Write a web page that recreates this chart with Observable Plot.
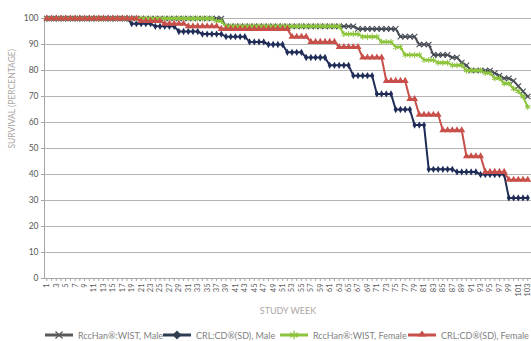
<!DOCTYPE html>
<html>
<head>
<meta charset="utf-8">
<script src="https://cdn.jsdelivr.net/npm/d3@7"></script>
<script src="https://cdn.jsdelivr.net/npm/@observablehq/plot@0.6"></script>
<style>
  html, body { margin: 0; padding: 0; background: #fff; }
  body { width: 531px; height: 341px; position: relative; overflow: hidden; font-family: Lato, "Open Sans", sans-serif; }
  #chart { position: absolute; left: 0; top: 0; }
  #legend { position: absolute; left: 0; top: 328px; width: 531px; height: 14px; display: flex; align-items: center; font-size: 9px; color: #7f7f7f; }
  .item { position: absolute; display: flex; align-items: center; white-space: nowrap; }
  .item svg { margin-right: 5px; }
</style>
</head>
<body>
<div id="chart"></div>
<div id="legend"></div>
<script>
const weeks = [1,2,3,4,5,6,7,8,9,10,11,12,13,14,15,16,17,18,19,20,21,22,23,24,25,26,27,28,29,30,31,32,33,34,35,36,37,38,39,40,41,42,43,44,45,46,47,48,49,50,51,52,53,54,55,56,57,58,59,60,61,62,63,64,65,66,67,68,69,70,71,72,73,74,75,76,77,78,79,80,81,82,83,84,85,86,87,88,89,90,91,92,93,94,95,96,97,98,99,100,101,102,103];

const yTicks = [0,10,20,30,40,50,60,70,80,90,100];

const seriesNames = ["RccHan®:WIST, Male", "CRL:CD®(SD), Male", "RccHan®:WIST, Female", "CRL:CD®(SD), Female"];

const rccHanMale = [
 100,100,100,100,100,100,100,100,100,100,
 100,100,100,100,100,100,100,100,100,100,
 100,100,100,100,100,100,100,100,100,100,
 100,100,100,100,100,100,100,100,97,97,
 97,97,97,97,97,97,97,97,97,97,
 97,97,97,97,97,97,97,97,97,97,
 97,97,97,97,97,97,96,96,96,96,
 96,96,96,96,96,93,93,93,93,90,
 90,90,86,86,86,86,85,85,83,82,
 80,80,80,80,80,79,78,77,77,76,
 74,72,70];

const crlMale = [
 100,100,100,100,100,100,100,100,100,100,
 100,100,100,100,100,100,100,100,98,98,
 98,98,98,97,97,97,97,97,95,95,
 95,95,95,94,94,94,94,94,93,93,
 93,93,93,91,91,91,91,90,90,90,
 90,87,87,87,87,85,85,85,85,85,
 82,82,82,82,82,78,78,78,78,78,
 71,71,71,71,65,65,65,65,59,59,
 59,42,42,42,42,42,42,41,41,41,
 41,41,40,40,40,40,40,40,31,31,
 31,31,31];

const rccHanFemale = [
 100,100,100,100,100,100,100,100,100,100,
 100,100,100,100,100,100,100,100,100,100,
 100,100,100,100,100,100,100,100,100,100,
 100,100,100,100,100,100,99,99,97,97,
 97,97,97,97,97,97,97,97,97,97,
 97,97,97,97,97,97,97,97,97,97,
 97,97,97,94,94,94,94,93,93,93,
 93,91,91,91,89,89,86,86,86,86,
 84,84,84,83,83,83,82,82,82,80,
 80,80,80,79,79,77,77,75,75,73,
 72,70,66];

const crlFemale = [
 100,100,100,100,100,100,100,100,100,100,
 100,100,100,100,100,100,100,100,100,100,
 99,99,99,99,99,98,98,98,98,98,
 97,97,97,97,97,97,97,96,96,96,
 96,96,96,96,96,96,96,96,96,96,
 96,96,93,93,93,93,91,91,91,91,
 91,91,89,89,89,89,89,85,85,85,
 85,85,76,76,76,76,76,69,69,63,
 63,63,63,63,57,57,57,57,57,47,
 47,47,47,41,41,41,41,41,38,38,
 38,38,38];

const styles = [
  {color: "#474d55", legendColor: "#5a5a5a", symbol: "times", r: 2.6, filled: false},
  {color: "#1f2d58", legendColor: "#2f3d52", symbol: "diamond", r: 2.2, filled: true},
  {color: "#8cc43c", legendColor: "#8cc43c", symbol: "asterisk", r: 2.8, filled: false},
  {color: "#c8504b", legendColor: "#c8504b", symbol: "triangle", r: 2.6, filled: true}
];
const valueArrays = [rccHanMale, crlMale, rccHanFemale, crlFemale];

const seriesRows = valueArrays.map((vals, si) =>
  weeks.map((w, i) => ({week: w, value: vals[i], series: seriesNames[si]})));

const marks = [
  Plot.gridY(yTicks, {stroke: "#b4b4b4", strokeOpacity: 1, strokeWidth: 1}),
  Plot.ruleX([0.5], {stroke: "#a6a6a6", strokeWidth: 1}),
  Plot.ruleY([0], {stroke: "#a6a6a6", strokeWidth: 1}),
  Plot.axisY(yTicks, {tickSize: 3, tickPadding: 3, stroke: "#a6a6a6", fill: "#595959", fontSize: 8.5, label: null}),
  Plot.axisX(weeks, {tickSize: 3, tickPadding: 2, tickRotate: -90, stroke: "#a6a6a6", fill: "#595959", fontSize: 7.5, tickFormat: d => (d % 2 === 1 ? String(d) : ""), label: null}),
  Plot.text(["SURVIVAL (PERCENTAGE)"], {frameAnchor: "left", dx: -32, rotate: -90, fill: "#aca6a4", fontSize: 8.5, text: d => d}),
  Plot.text(["STUDY WEEK"], {frameAnchor: "bottom", dy: 35, fill: "#aca6a4", fontSize: 9, text: d => d})
];

seriesRows.forEach((rows, si) => {
  const st = styles[si];
  marks.push(Plot.line(rows, {x: "week", y: "value", stroke: st.color, strokeWidth: 2}));
  marks.push(Plot.dot(rows, st.filled
    ? {x: "week", y: "value", symbol: st.symbol, r: st.r, fill: st.color, stroke: "none"}
    : {x: "week", y: "value", symbol: st.symbol, r: st.r, stroke: st.color, strokeWidth: 1.1, fill: "none"}));
});

const chart = Plot.plot({
  width: 531,
  height: 328,
  marginLeft: 44,
  marginRight: 0,
  marginTop: 18,
  marginBottom: 50,
  style: {fontFamily: "Lato, 'Open Sans', sans-serif", background: "#fff"},
  x: {type: "linear", domain: [0.5, 103.8]},
  y: {domain: [0, 100]},
  marks
});
document.getElementById("chart").appendChild(chart);

// Legend
const legendX = [45, 163, 280, 408];
const legend = document.getElementById("legend");
const symbolPaths = {
  times: '<path d="M10.5 2.5 L17.5 9.5 M17.5 2.5 L10.5 9.5" stroke="COL" stroke-width="1.3" fill="none"/>',
  diamond: '<path d="M14 1.5 L18.5 6 L14 10.5 L9.5 6 Z" fill="COL"/>',
  asterisk: '<path d="M14 1.5 L14 10.5 M10.1 3.75 L17.9 8.25 M17.9 3.75 L10.1 8.25" stroke="COL" stroke-width="1.2" fill="none"/>',
  triangle: '<path d="M14 1.5 L18.5 7.5 L9.5 7.5 Z" fill="COL"/>'
};
seriesNames.forEach((name, si) => {
  const st = styles[si];
  const item = document.createElement("div");
  item.className = "item";
  item.style.left = legendX[si] + "px";
  item.innerHTML = `<svg width="28" height="12" viewBox="0 0 28 12"><line x1="0" y1="6" x2="28" y2="6" stroke="${st.legendColor}" stroke-width="3"/>${symbolPaths[st.symbol].replace(/COL/g, st.legendColor)}</svg><span>${name}</span>`;
  legend.appendChild(item);
});
</script>
</body>
</html>
